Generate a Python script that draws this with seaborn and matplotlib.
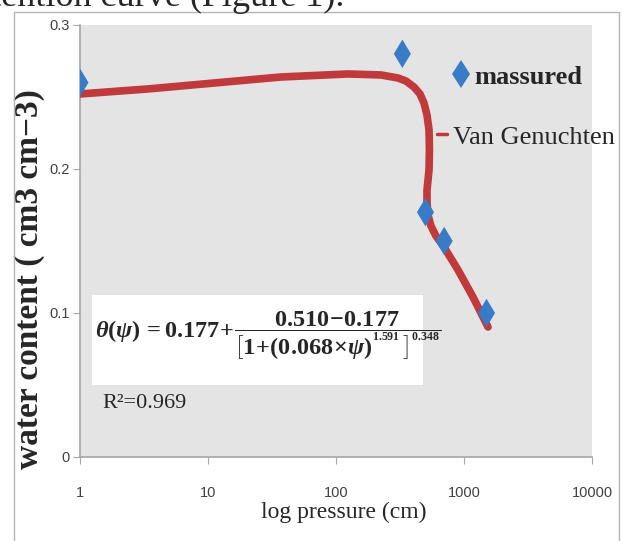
import matplotlib
matplotlib.use('Agg')
import matplotlib.pyplot as plt
import seaborn as sns
import pandas as pd
from matplotlib.lines import Line2D
from matplotlib.patches import Rectangle
from matplotlib.ticker import FixedLocator, NullLocator, FixedFormatter

pressure_meas = [1, 330, 500, 700, 1500]
theta_meas = [0.26, 0.28, 0.17, 0.15, 0.10]

# fitted Van Genuchten curve
curve_pressure = [1.0, 3.4, 11.1, 37.2, 124, 225, 305, 352, 407, 453, 487, 514, 533,
                  537, 533, 514, 514, 523, 552, 604, 698, 898, 1175, 1540]
curve_theta = [0.2521, 0.2556, 0.2597, 0.2639, 0.2660, 0.2653, 0.2632, 0.2611, 0.2569,
               0.2521, 0.2458, 0.2375, 0.2271, 0.2132, 0.1993, 0.1854, 0.1764, 0.1681,
               0.1604, 0.1535, 0.1458, 0.1299, 0.1111, 0.0903]

x_ticks = [1, 10, 100, 1000, 10000]
x_ticklabels = ['1', '10', '100', '1000', '10000']
y_ticks = [0, 0.1, 0.2, 0.3]
y_ticklabels = ['0', '0.1', '0.2', '0.3']

blue = '#3A7BC8'
red = '#C0393B'
serif = ['Liberation Serif', 'DejaVu Serif']
narrow = ['Liberation Sans Narrow', 'Liberation Sans', 'DejaVu Sans']

sns.set_style('white')
plt.rcParams['mathtext.fontset'] = 'custom'
plt.rcParams['mathtext.rm'] = 'Liberation Serif:bold'
plt.rcParams['mathtext.it'] = 'Liberation Serif:italic:bold'
plt.rcParams['mathtext.bf'] = 'Liberation Serif:bold'

meas = pd.DataFrame({'pressure': pressure_meas, 'theta': theta_meas})
curve = pd.DataFrame({'pressure': curve_pressure, 'theta': curve_theta})

fig = plt.figure(figsize=(6.22, 5.41), dpi=100)
ax = fig.add_axes([80 / 622, 84 / 541, 512 / 622, 432 / 541])
ax.set_facecolor('#E4E4E4')

sns.lineplot(data=curve, x='pressure', y='theta', sort=False, estimator=None,
             color=red, lw=5.5, ax=ax, zorder=3)
sns.scatterplot(data=meas, x='pressure', y='theta', marker='d', s=210,
                color=blue, edgecolor='none', ax=ax, zorder=4)

ax.set_xscale('log')
ax.set_xlim(1, 10000)
ax.set_ylim(0, 0.3)
ax.xaxis.set_major_locator(FixedLocator(x_ticks))
ax.xaxis.set_major_formatter(FixedFormatter(x_ticklabels))
ax.xaxis.set_minor_locator(NullLocator())
ax.yaxis.set_major_locator(FixedLocator(y_ticks))
ax.yaxis.set_major_formatter(FixedFormatter(y_ticklabels))

for s in ['top', 'right']:
    ax.spines[s].set_visible(False)
for s in ['left', 'bottom']:
    ax.spines[s].set_color('#A6A6A6')
    ax.spines[s].set_linewidth(1.2)
ax.tick_params(axis='x', which='major', bottom=True, length=5, color='#A6A6A6',
               pad=16, labelsize=10.5, labelcolor='#404040')
ax.tick_params(axis='y', which='major', left=True, length=5, color='#A6A6A6',
               pad=2.5, labelsize=10.5, labelcolor='#404040')
for lab in ax.get_xticklabels() + ax.get_yticklabels():
    lab.set_family(narrow)

ax.set_xlabel('log pressure (cm)', fontsize=17, family=serif)
ax.xaxis.set_label_coords(0.516, -0.103)
ax.set_ylabel('water content ( cm3 cm\u22123)', fontsize=24, fontweight='bold', family=serif)
ax.yaxis.set_label_coords(-0.068, 0.412)

# equation box
ax.add_patch(Rectangle((0.023, 0.167), 0.647, 0.208, transform=ax.transAxes,
                       facecolor='white', edgecolor='none', zorder=2))
ax.text(0.03, 0.279,
        r'$\theta(\psi)\,=0.177\!+\!\dfrac{0.510\!-\!0.177}'
        r'{\left[1\!+\!(0.068\!\times\!\psi)^{{}^{1.591}}\,\right]^{{}^{0.348}}}$',
        transform=ax.transAxes, fontsize=17.5, va='center', ha='left', zorder=5)
ax.text(0.043, 0.123, 'R\u00b2=0.969', transform=ax.transAxes, fontsize=16,
        family=serif, va='center', ha='left', zorder=5)

# legends
h1 = Line2D([], [], marker='d', ls='none', color=blue, markersize=14.5, markeredgewidth=0)
leg1 = ax.legend(handles=[h1], labels=['massured'], loc='center left',
                 bbox_to_anchor=(0.732, 0.880), frameon=False, borderpad=0,
                 borderaxespad=0, handlelength=0.5, handletextpad=0.25,
                 prop={'family': serif, 'size': 19, 'weight': 'bold'})
ax.add_artist(leg1)
h2 = Line2D([], [], color=red, lw=2.5)
ax.legend(handles=[h2], labels=['Van Genuchten'], loc='center left',
          bbox_to_anchor=(0.697, 0.741), frameon=False, borderpad=0,
          borderaxespad=0, handlelength=0.38, handletextpad=0.23,
          prop={'family': serif, 'size': 19})

# clipped caption line at the very top and the outer frame
fig.text(344 / 622, 1 - 6 / 541, 'retention curve (Figure 1).', fontsize=26,
         family=serif, ha='right', va='baseline')
fig.patches.append(Rectangle((14 / 622, -0.01), 605 / 622, 1 - 12 / 541 + 0.01,
                             transform=fig.transFigure, fill=False,
                             edgecolor='#B4B4B4', lw=1))

fig.savefig('out.png', dpi=100)
